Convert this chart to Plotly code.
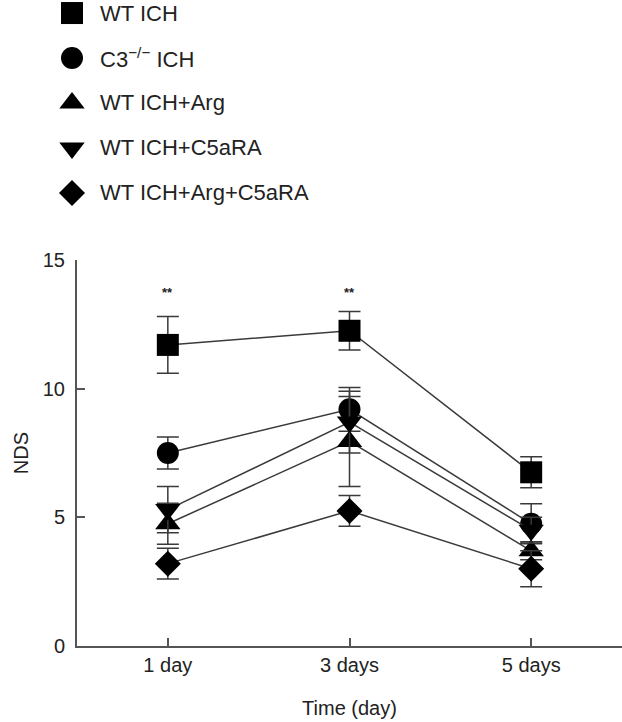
"""NDS over time after ICH, five treatment groups."""

import plotly.graph_objects as go

FONT = "Liberation Sans, Arial, sans-serif"
INK = "#222222"
LINE = "#3a3a3a"

days = ["1 day", "3 days", "5 days"]

groups = ["WT ICH", "C3<sup>−/−</sup> ICH", "WT ICH+Arg", "WT ICH+C5aRA", "WT ICH+Arg+C5aRA"]
symbols = ["square", "circle", "triangle-up", "triangle-down", "diamond"]
sizes = [22, 22, 22, 22, 20]

wt_ich = [11.7, 12.25, 6.75]
wt_ich_err = [1.1, 0.75, 0.6]
c3_ich = [7.5, 9.2, 4.75]
c3_ich_err = [0.62, 0.85, 0.78]
wt_arg = [4.75, 7.95, 3.7]
wt_arg_err = [0.8, 1.75, 0.35]
wt_c5ara = [5.3, 8.7, 4.5]
wt_c5ara_err = [0.9, 1.2, 0.5]
wt_arg_c5ara = [3.2, 5.25, 3.0]
wt_arg_c5ara_err = [0.6, 0.6, 0.7]

series = [wt_ich, c3_ich, wt_arg, wt_c5ara, wt_arg_c5ara]
errors = [wt_ich_err, c3_ich_err, wt_arg_err, wt_c5ara_err, wt_arg_c5ara_err]

sig_days = ["1 day", "3 days"]
sig_level = [13.75, 13.75]

fig = go.Figure()

for vals, errs, sym, size in zip(series, errors, symbols, sizes):
    fig.add_trace(go.Scatter(
        x=days, y=vals, mode="lines+markers",
        line=dict(color=LINE, width=1.5),
        marker=dict(symbol=sym, size=size, color="black"),
        error_y=dict(type="data", array=errs, color=LINE, thickness=1.5, width=11),
        showlegend=False,
    ))

# hand-made legend on its own axes, one row per group
rows = list(range(len(groups)))
for row, sym, size in zip(rows, symbols, sizes):
    fig.add_trace(go.Scatter(
        x=[0], y=[row], mode="markers", xaxis="x2", yaxis="y2",
        marker=dict(symbol=sym, size=size, color="black"),
        cliponaxis=False, showlegend=False, hoverinfo="skip",
    ))
for row, name in zip(rows, groups):
    fig.add_annotation(
        x=0, y=row, xref="x2", yref="y2", text=name, showarrow=False,
        xanchor="left", xshift=26, font=dict(size=22, color=INK, family=FONT),
    )

for d, level in zip(sig_days, sig_level):
    fig.add_annotation(
        x=d, y=level, text="<b>**</b>", showarrow=False,
        font=dict(size=13, color=INK, family=FONT),
    )

fig.update_layout(
    width=622, height=722,
    margin=dict(l=0, r=0, t=0, b=76),
    paper_bgcolor="white", plot_bgcolor="white",
    font=dict(family=FONT, size=20, color=INK),
    xaxis=dict(
        domain=[77 / 622, 1], type="category", range=[-0.5, 2.5],
        showline=True, linecolor="#555555", linewidth=2,
        ticks="inside", ticklen=8, tickwidth=1.5, tickcolor="#555555",
        showgrid=False, zeroline=False, automargin=False,
        tickfont=dict(size=20),
        title=dict(text="Time (day)", font=dict(size=20), standoff=26),
    ),
    yaxis=dict(
        domain=[0, 386 / 646], range=[0, 15], tickvals=[0, 5, 10, 15],
        showline=True, linecolor="#555555", linewidth=2,
        ticks="inside", ticklen=8, tickwidth=1.5, tickcolor="#555555",
        showgrid=False, zeroline=False, ticklabelstandoff=6, automargin=False,
        tickfont=dict(size=20),
        title=dict(text="NDS", font=dict(size=20), standoff=9),
    ),
    xaxis2=dict(domain=[0, 1], range=[-72, 550], visible=False, fixedrange=True),
    yaxis2=dict(domain=[0.70, 1], range=[4.02, -0.29], visible=False, fixedrange=True),
)

# the page body carries a default 8px margin; drop it so the figure sits at 0,0
fig.write_html(
    "out.html",
    config={"displayModeBar": False},
    post_script="document.body.style.margin = '0';",
)
